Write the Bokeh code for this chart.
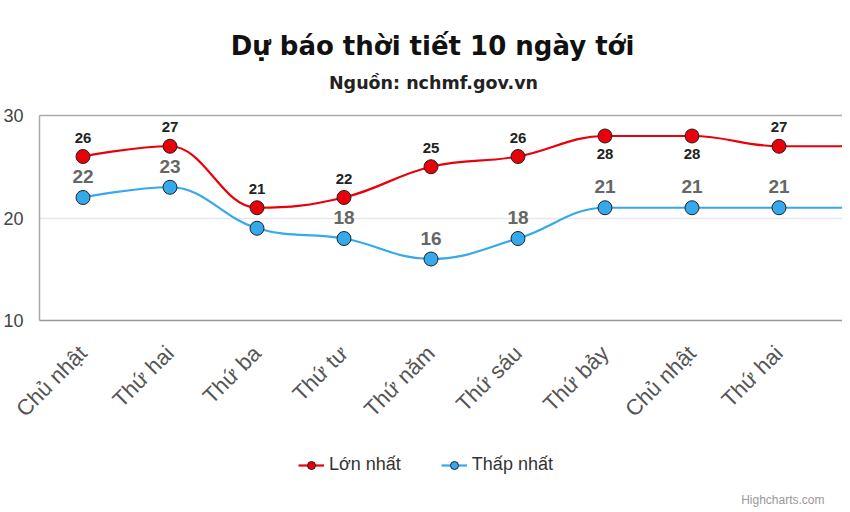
import math
from bokeh.plotting import figure
from bokeh.layouts import column
from bokeh.models import (ColumnDataSource, Range1d, FixedTicker, LinearAxis,
                          Legend, LegendItem, Label)
from bokeh.core.properties import value
from bokeh.embed import file_html
from bokeh.resources import INLINE

# ---------------- data ----------------
categories = ["Chủ nhật", "Thứ hai", "Thứ ba", "Thứ tư", "Thứ năm",
              "Thứ sáu", "Thứ bảy", "Chủ nhật", "Thứ hai", "Thứ ba"]
max_temps = [26, 27, 21, 22, 25, 26, 28, 28, 27, 27]
min_temps = [22, 23, 19, 18, 16, 18, 21, 21, 21, 21]
y_ticks = [10, 20, 30]
series_names = ["Lớn nhất", "Thấp nhất"]
title_text = "Dự báo thời tiết 10 ngày tới"
subtitle_text = "Nguồn: nchmf.gov.vn"
credit_text = "Highcharts.com"

FONT = "Liberation Sans"
TFONT = "DejaVu Sans"
RED = "#e8000b"
BLUE = "#36a9ec"


def spline_segments(xs, ys, smoothing=1.5):
    """Highcharts-style spline control points, one cubic segment per gap."""
    n = len(xs)
    left = [(xs[i], ys[i]) for i in range(n)]
    right = [(xs[i], ys[i]) for i in range(n)]
    denom = smoothing + 1
    for i in range(1, n - 1):
        lx, ly = xs[i - 1], ys[i - 1]
        px, py = xs[i], ys[i]
        nx, ny = xs[i + 1], ys[i + 1]
        lcx = (smoothing * px + lx) / denom
        lcy = (smoothing * py + ly) / denom
        rcx = (smoothing * px + nx) / denom
        rcy = (smoothing * py + ny) / denom
        if rcx != lcx:
            corr = (rcy - lcy) * (rcx - px) / (rcx - lcx) + py - rcy
            lcy += corr
            rcy += corr
            if lcy > ly and lcy > py:
                lcy = max(ly, py); rcy = 2 * py - lcy
            elif lcy < ly and lcy < py:
                lcy = min(ly, py); rcy = 2 * py - lcy
            if rcy > ny and rcy > py:
                rcy = max(ny, py); lcy = 2 * py - rcy
            elif rcy < ny and rcy < py:
                rcy = min(ny, py); lcy = 2 * py - rcy
        left[i] = (lcx, lcy)
        right[i] = (rcx, rcy)
    d = dict(x0=[], y0=[], x1=[], y1=[], cx0=[], cy0=[], cx1=[], cy1=[])
    for i in range(1, n):
        d["x0"].append(xs[i - 1]); d["y0"].append(ys[i - 1])
        d["x1"].append(xs[i]); d["y1"].append(ys[i])
        d["cx0"].append(right[i - 1][0]); d["cy0"].append(right[i - 1][1])
        d["cx1"].append(left[i][0]); d["cy1"].append(left[i][1])
    return ColumnDataSource(d)


def strip(height):
    f = figure(width=834, height=height, output_backend="svg", toolbar_location=None,
               x_axis_type=None, y_axis_type=None, min_border=0,
               x_range=Range1d(100, 101), y_range=Range1d(100, 101))
    f.outline_line_color = None
    f.grid.visible = False
    return f


idx = list(range(len(categories)))

# ---------------- title strip ----------------
head = strip(98)
head.add_layout(Label(x=393, y=53, x_units="screen", y_units="screen",
                      text=title_text, text_align="center", text_baseline="middle",
                      text_font=TFONT, text_font_size="26px", text_font_style="bold",
                      text_color="#111"))
head.add_layout(Label(x=394, y=16, x_units="screen", y_units="screen",
                      text=subtitle_text, text_align="center", text_baseline="middle",
                      text_font=TFONT, text_font_size="17.5px", text_font_style="bold",
                      text_color="#222"))

# ---------------- main chart ----------------
p = figure(frame_width=803, frame_height=205, output_backend="svg",
           toolbar_location=None,
           x_range=Range1d(-0.5, 8.73), y_range=Range1d(y_ticks[0], y_ticks[-1]),
           min_border_left=31, min_border_right=0, min_border_top=17,
           min_border_bottom=0)
p.outline_line_color = None
p.background_fill_color = "white"
p.border_fill_color = "white"

xa = p.xaxis[0]
xa.ticker = FixedTicker(ticks=idx[:9])
xa.major_label_overrides = {i: c for i, c in zip(idx, categories)}
xa.major_label_orientation = math.pi / 4
xa.major_label_text_font = FONT
xa.major_label_text_font_size = "22px"
xa.major_label_text_color = "#555"
xa.major_tick_line_color = None
xa.minor_tick_line_color = None
xa.axis_line_color = "#999"
xa.axis_line_width = 1.5
xa.major_label_standoff = 23

ya = p.yaxis[0]
ya.ticker = FixedTicker(ticks=y_ticks)
ya.major_label_text_font = FONT
ya.major_label_text_font_size = "18px"
ya.major_label_text_color = "#444"
ya.major_tick_line_color = None
ya.minor_tick_line_color = None
ya.axis_line_color = "#aaa"
ya.axis_line_width = 1.5
ya.major_label_standoff = 10

top_axis = LinearAxis(ticker=FixedTicker(ticks=[]),
                      axis_line_color="#aaa", axis_line_width=1.5,
                      major_tick_line_color=None, minor_tick_line_color=None)
p.add_layout(top_axis, "above")

p.xgrid.grid_line_color = None
p.ygrid.ticker = FixedTicker(ticks=y_ticks)
p.ygrid.grid_line_color = "#e8e8e8"
p.ygrid.grid_line_width = 1.5

max_src = spline_segments(idx, max_temps)
min_src = spline_segments(idx, min_temps)
p.bezier(x0="x0", y0="y0", x1="x1", y1="y1", cx0="cx0", cy0="cy0",
         cx1="cx1", cy1="cy1", source=max_src, line_color=RED, line_width=2.2)
p.bezier(x0="x0", y0="y0", x1="x1", y1="y1", cx0="cx0", cy0="cy0",
         cx1="cx1", cy1="cy1", source=min_src, line_color=BLUE, line_width=2.2)

top = y_ticks[-1]
vis = 9  # points whose labels fall inside the visible area
pts = ColumnDataSource(dict(
    x=idx, ymax=max_temps, ymin=min_temps,
    tmax=[str(v) if i < vis else "" for i, v in enumerate(max_temps)],
    tmin=[str(lo) if (hi - lo) >= 3 and i < vis else ""
          for i, (hi, lo) in enumerate(zip(max_temps, min_temps))],
    offmax=[18 if v > top - 3 else -19 for v in max_temps],
))
p.scatter("x", "ymax", source=pts, size=14, fill_color=RED,
          line_color="#222", line_width=1)
p.scatter("x", "ymin", source=pts, size=14, fill_color=BLUE,
          line_color="#222", line_width=1)

p.text("x", "ymax", text="tmax", source=pts, y_offset="offmax",
       text_font=value(FONT), text_font_size="15px", text_font_style="bold",
       text_color="#222", text_align="center", text_baseline="middle")
p.text("x", "ymin", text="tmin", source=pts, y_offset=-21,
       text_font=value(FONT), text_font_size="19px", text_font_style="bold",
       text_color="#666", text_align="center", text_baseline="middle")

# ---------------- legend strip ----------------
# the strip's ranges lie away from the data, so only the legend is seen
leg = strip(78)
l_max = leg.line("x", "ymax", source=pts, line_color=RED, line_width=2.2)
m_max = leg.scatter("x", "ymax", source=pts, size=14, fill_color=RED,
                    line_color="#222", line_width=1)
l_min = leg.line("x", "ymin", source=pts, line_color=BLUE, line_width=2.2)
m_min = leg.scatter("x", "ymin", source=pts, size=14, fill_color=BLUE,
                    line_color="#222", line_width=1)
legend = Legend(items=[LegendItem(label=series_names[0], renderers=[l_max, m_max]),
                       LegendItem(label=series_names[1], renderers=[l_min, m_min])],
                orientation="horizontal", location=(259, 36),
                label_text_font=FONT, label_text_font_size="18px",
                label_text_color="#333", border_line_color=None,
                background_fill_alpha=0, glyph_width=26, spacing=40,
                margin=0, padding=4)
leg.add_layout(legend, "center")
leg.add_layout(Label(x=785, y=5, x_units="screen", y_units="screen",
                     text=credit_text, text_align="right", text_font=FONT,
                     text_font_size="12px", text_color="#999"))

page = column(head, p, leg, spacing=0)
open("out.html", "w").write(file_html(page, INLINE))
